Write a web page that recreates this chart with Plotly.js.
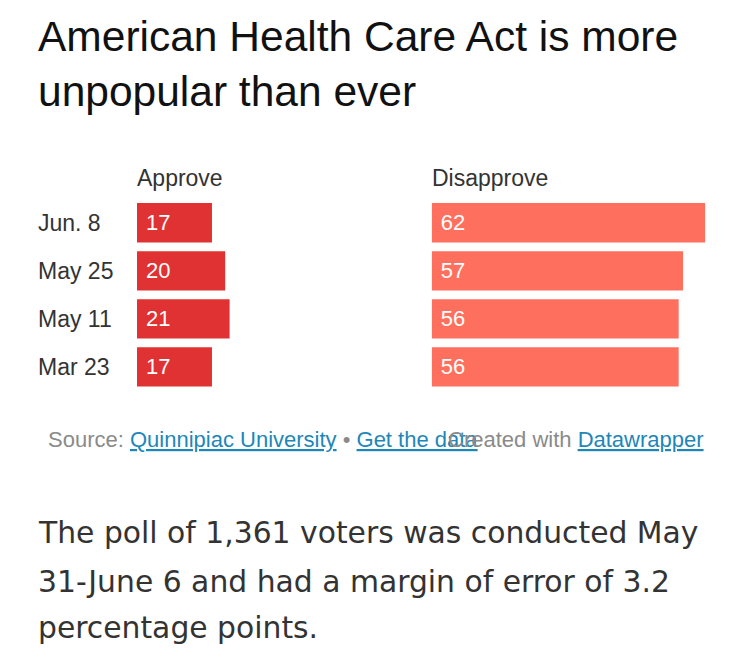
<!DOCTYPE html>
<html>
<head>
<meta charset="utf-8">
<script src="https://cdn.plot.ly/plotly-3.0.1.min.js"></script>
<style>
html,body{margin:0;padding:0;background:#fff;}
#chart{width:750px;height:664px;}
</style>
</head>
<body>
<div id="chart"></div>
<script>
// ---- data ----
var dates = ['Jun. 8', 'May 25', 'May 11', 'Mar 23'];
var approve = [17, 20, 21, 17];
var disapprove = [62, 57, 56, 56];
var seriesNames = ['Approve', 'Disapprove'];
var titleLines = ['American Health Care Act is more', 'unpopular than ever'];
var noteLines = [
  'The poll of 1,361 voters was conducted May',
  '31-June 6 and had a margin of error of 3.2',
  'percentage points.'
];

var W = 750, H = 664;
function px(x){ return x / W; }
function py(y){ return (H - y) / H; }

var baseFont = 'Liberation Sans, Arial, Helvetica, sans-serif';
var noteFont = 'DejaVu Sans, Open Sans, sans-serif';

var traces = [
  {
    type: 'bar', orientation: 'h', name: seriesNames[0],
    y: dates, x: approve, xaxis: 'x', yaxis: 'y',
    marker: {color: '#e03232'}, width: 0.82,
    text: approve, texttemplate: '\u00a0%{x}',
    textposition: 'inside', insidetextanchor: 'start',
    insidetextfont: {family: baseFont, size: 22, color: '#ffffff'},
    hoverinfo: 'none', cliponaxis: false
  },
  {
    type: 'bar', orientation: 'h', name: seriesNames[1],
    y: dates, x: disapprove, xaxis: 'x2', yaxis: 'y',
    marker: {color: '#ff6f5e'}, width: 0.82,
    text: disapprove, texttemplate: '\u00a0%{x}',
    textposition: 'inside', insidetextanchor: 'start',
    insidetextfont: {family: baseFont, size: 22, color: '#ffffff'},
    hoverinfo: 'none', cliponaxis: false
  }
];

var annotations = [];
// row labels
dates.forEach(function(d){
  annotations.push({
    xref: 'paper', yref: 'y', x: px(36), y: d,
    xanchor: 'left', yanchor: 'middle', showarrow: false,
    text: d, font: {family: baseFont, size: 23, color: '#333333'}
  });
});
// column headers
annotations.push({
  xref: 'paper', yref: 'paper', x: px(135), y: py(178),
  xanchor: 'left', yanchor: 'middle', showarrow: false,
  text: seriesNames[0], font: {family: baseFont, size: 23, color: '#333333'}
});
annotations.push({
  xref: 'paper', yref: 'paper', x: px(430), y: py(178),
  xanchor: 'left', yanchor: 'middle', showarrow: false,
  text: seriesNames[1], font: {family: baseFont, size: 23, color: '#333333'}
});
// source line
var link = '#1d87b8';
annotations.push({
  xref: 'paper', yref: 'paper', x: px(46), y: py(439.5),
  xanchor: 'left', yanchor: 'middle', showarrow: false,
  text: 'Source: <span style="color:' + link + '"><u>Quinnipiac University</u></span> \u2022 <span style="color:' + link + '"><u>Get the data</u></span>',
  font: {family: baseFont, size: 22, color: '#8a8a8a'}
});
annotations.push({
  xref: 'paper', yref: 'paper', x: px(706), y: py(439.5),
  xanchor: 'right', yanchor: 'middle', showarrow: false,
  text: 'Created with <span style="color:' + link + '"><u>Datawrapper</u></span>',
  font: {family: baseFont, size: 22, color: '#8a8a8a'}
});
// note paragraph
var noteCenters = [532.5, 581, 627.5];
noteLines.forEach(function(t, i){
  annotations.push({
    xref: 'paper', yref: 'paper', x: px(36), y: py(noteCenters[i]),
    xanchor: 'left', yanchor: 'middle', showarrow: false,
    text: t, font: {family: noteFont, size: 29.8, color: '#333333'}
  });
});

var layout = {
  width: W, height: H,
  margin: {l: 0, r: 0, t: 0, b: 0, pad: 0},
  paper_bgcolor: '#ffffff', plot_bgcolor: '#ffffff',
  showlegend: false,
  bargap: 0.18,
  title: {
    text: titleLines.join('<br>'),
    x: px(38), xanchor: 'left', xref: 'paper',
    y: 1 - 51 / H, yanchor: 'top', yref: 'container',
    font: {family: baseFont, size: 42.5, color: '#111111'}
  },
  xaxis: {
    domain: [px(137), px(137 + 4.41 * 30)], range: [0, 30],
    anchor: 'y', showgrid: false, zeroline: false, showticklabels: false,
    showline: false, ticks: '', fixedrange: true
  },
  xaxis2: {
    domain: [px(431.7), px(431.7 + 4.41 * 65)], range: [0, 65],
    anchor: 'y', showgrid: false, zeroline: false, showticklabels: false,
    showline: false, ticks: '', fixedrange: true
  },
  yaxis: {
    type: 'category', domain: [py(390.9), py(198.8)], range: [3.5, -0.5],
    showgrid: false, zeroline: false, showticklabels: false,
    showline: false, ticks: '', fixedrange: true
  },
  annotations: annotations
};

Plotly.newPlot('chart', traces, layout, {displayModeBar: false, staticPlot: true});
</script>
</body>
</html>
